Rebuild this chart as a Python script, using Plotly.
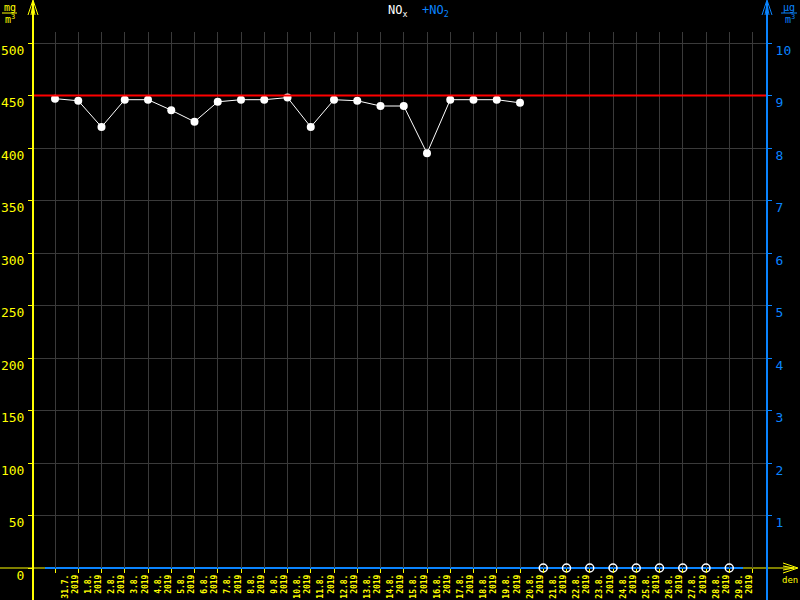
import plotly.graph_objects as go

# ---- data ----
dates = ["31.7.", "1.8.", "2.8.", "3.8.", "4.8.", "5.8.", "6.8.", "7.8.", "8.8.", "9.8.",
         "10.8.", "11.8.", "12.8.", "13.8.", "14.8.", "15.8.", "16.8.", "17.8.", "18.8.", "19.8.",
         "20.8.", "21.8.", "22.8.", "23.8.", "24.8.", "25.8.", "26.8.", "27.8.", "28.8.", "29.8."]
year = "2019"
nox = [447, 445, 420, 446, 446, 436, 425, 444, 446, 446,
       448, 420, 446, 445, 440, 440, 395, 446, 446, 446,
       443, None, None, None, None, None, None, None, None, None]
limit_value = 450
left_ticks = [0, 50, 100, 150, 200, 250, 300, 350, 400, 450, 500]
right_ticks = [1, 2, 3, 4, 5, 6, 7, 8, 9, 10]

YEL = "#ffff00"
BLUE = "#0a84ff"
GRID = "#3a3a3a"

W, H = 800, 600
L, R, T, B = 33, 33, 32, 32
PW, PH = W - L - R, H - T - B

def px(x):
    return (x - L) / PW

def py(y):
    return (H - B - y) / PH

idx = list(range(len(dates)))
valid_x = [i for i, v in zip(idx, nox) if v is not None]
valid_y = [v for v in nox if v is not None]
miss_x = [i for i, v in zip(idx, nox) if v is None]
miss_y = [0 for _ in miss_x]

fig = go.Figure()
fig.add_trace(go.Scatter(x=valid_x, y=valid_y, mode="lines+markers",
                         line=dict(color="white", width=1),
                         marker=dict(color="white", size=8), showlegend=False,
                         cliponaxis=False))
fig.add_trace(go.Scatter(x=miss_x, y=miss_y, mode="markers",
                         marker=dict(symbol="circle-open", color="white", size=8,
                                     line=dict(width=1.5)),
                         showlegend=False, cliponaxis=False))
# invisible trace for right axis
fig.add_trace(go.Scatter(x=[0], y=[0], yaxis="y2", mode="markers",
                         marker=dict(opacity=0), showlegend=False, hoverinfo="skip"))

xmin = (L - 55) / 23.25
xmax = (W - R - 55) / 23.25
ymax = PH / 1.05

label_pos = [i + 0.65 for i in idx]
label_txt = [f"{d}<br>{year}" for d in dates]

fig.update_layout(
    width=W, height=H,
    margin=dict(l=L, r=R, t=T, b=B, pad=0, autoexpand=False),
    paper_bgcolor="black", plot_bgcolor="black",
    xaxis=dict(range=[xmin, xmax], tickmode="array", tickvals=label_pos, ticktext=label_txt,
               ticks="", tickangle=-90, showgrid=False, zeroline=False, showline=False,
               automargin=False, ticklabelstandoff=4,
               tickfont=dict(family="DejaVu Sans Mono", size=8, color=YEL, weight="bold"),
               minor=dict(tickmode="array", tickvals=list(range(len(dates) + 1)),
                          ticks="outside", ticklen=4, tickcolor=YEL, tickwidth=1,
                          showgrid=True, gridcolor=GRID, gridwidth=1)),
    yaxis=dict(range=[0, ymax], tickmode="array", tickvals=left_ticks,
               ticks="outside", ticklen=4, tickcolor=YEL, tickwidth=1,
               showgrid=True, gridcolor=GRID, zeroline=False, showline=False,
               automargin=False,
               tickfont=dict(family="DejaVu Sans Mono", size=13, color=YEL),
               ticklabelshift=7, ticklabelstandoff=1),
    yaxis2=dict(range=[0, ymax / 50], overlaying="y", side="right", tickmode="array",
                tickvals=right_ticks, ticks="outside", ticklen=4, tickcolor=BLUE, tickwidth=1,
                showgrid=False, zeroline=False, showline=False, automargin=False,
                tickfont=dict(family="DejaVu Sans Mono", size=13, color=BLUE),
                ticklabelshift=7, ticklabelstandoff=1),
)

shapes = []
# limit line
shapes.append(dict(type="line", xref="paper", yref="y", x0=0, x1=1, y0=limit_value, y1=limit_value,
                   line=dict(color="#ff0000", width=2), layer="above"))
# x axis yellow line
shapes.append(dict(type="line", xref="paper", yref="paper", x0=px(0), x1=px(797), y0=0, y1=0,
                   line=dict(color=YEL, width=1), layer="below"))
# blue baseline
shapes.append(dict(type="line", xref="paper", yref="paper", x0=px(45), x1=px(743), y0=0, y1=0,
                   line=dict(color=BLUE, width=2), layer="below"))
# left axis
shapes.append(dict(type="line", xref="paper", yref="paper", x0=0, x1=0, y0=py(600), y1=py(1),
                   line=dict(color=YEL, width=2), layer="above"))
# right axis
shapes.append(dict(type="line", xref="paper", yref="paper", x0=1, x1=1, y0=py(600), y1=py(1),
                   line=dict(color=BLUE, width=2), layer="above"))
# arrows
def arrow_up(cx, color):
    return [dict(type="path", xref="paper", yref="paper",
                 path=f"M {px(cx-5)} {py(15)} L {px(cx)} {py(0)} L {px(cx+5)} {py(15)}",
                 line=dict(color=color, width=1)),
            dict(type="path", xref="paper", yref="paper",
                 path=f"M {px(cx-2)} {py(15)} L {px(cx)} {py(4)} L {px(cx+2)} {py(15)}",
                 line=dict(color=color, width=1))]
shapes += arrow_up(L, YEL)
shapes += arrow_up(W - R, BLUE)
shapes.append(dict(type="path", xref="paper", yref="paper",
                   path=f"M {px(783)} {py(563)} L {px(798)} {py(568)} L {px(783)} {py(573)}",
                   line=dict(color=YEL, width=1)))
shapes.append(dict(type="path", xref="paper", yref="paper",
                   path=f"M {px(783)} {py(566)} L {px(794)} {py(568)} L {px(783)} {py(570)}",
                   line=dict(color=YEL, width=1)))
# unit fraction bars
shapes.append(dict(type="line", xref="paper", yref="paper", x0=px(2), x1=px(17), y0=py(13), y1=py(13),
                   line=dict(color=YEL, width=1)))
shapes.append(dict(type="line", xref="paper", yref="paper", x0=px(781), x1=px(797), y0=py(13), y1=py(13),
                   line=dict(color=BLUE, width=1)))
fig.update_layout(shapes=shapes)

ann = []
ann.append(dict(xref="paper", yref="paper", x=px(418), y=py(11), xanchor="center", yanchor="middle",
                text=f"NO<sub>x</sub>  <span style='color:{BLUE}'>+NO<sub>2</sub></span>",
                showarrow=False, font=dict(family="DejaVu Sans Mono", size=12, color="white")))
ann.append(dict(xref="paper", yref="paper", x=px(9.5), y=py(7), xanchor="center", yanchor="middle",
                text="mg", showarrow=False, font=dict(family="DejaVu Sans Mono", size=10, color=YEL)))
ann.append(dict(xref="paper", yref="paper", x=px(10), y=py(19), xanchor="center", yanchor="middle",
                text="m<sup>3</sup>", showarrow=False, font=dict(family="DejaVu Sans Mono", size=10, color=YEL)))
ann.append(dict(xref="paper", yref="paper", x=px(789), y=py(7), xanchor="center", yanchor="middle",
                text="µg", showarrow=False, font=dict(family="DejaVu Sans Mono", size=10, color=BLUE)))
ann.append(dict(xref="paper", yref="paper", x=px(790), y=py(19), xanchor="center", yanchor="middle",
                text="m<sup>3</sup>", showarrow=False, font=dict(family="DejaVu Sans Mono", size=10, color=BLUE)))
ann.append(dict(xref="paper", yref="paper", x=px(790), y=py(580), xanchor="center", yanchor="middle",
                text="den", showarrow=False, font=dict(family="DejaVu Sans Mono", size=9, color=YEL)))
fig.update_layout(annotations=ann)

fig.write_html("out.html", config={"displayModeBar": False},
               post_script="document.body.style.margin='0';")
